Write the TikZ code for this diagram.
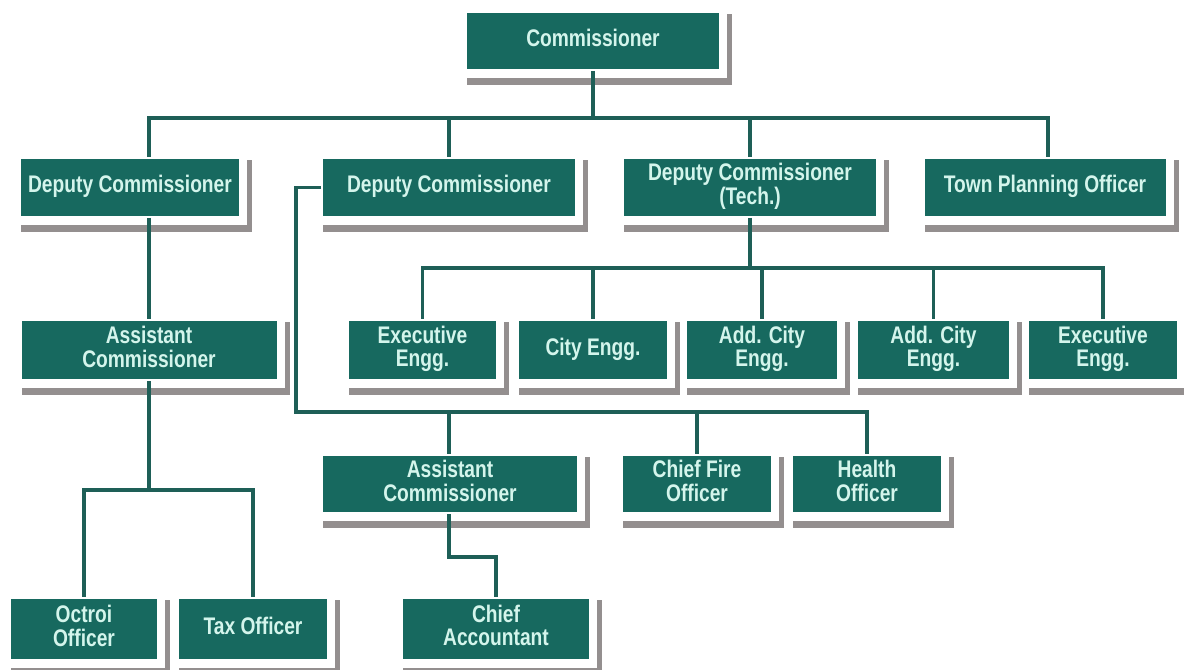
\documentclass[tikz,border=0pt]{standalone}
\usepackage{fontspec}
\setmainfont{Liberation Sans}
\usetikzlibrary{backgrounds}
\definecolor{boxc}{HTML}{17695F}
\definecolor{txtc}{HTML}{D4F5EC}
\definecolor{linec}{HTML}{1E5F57}
\definecolor{shadc}{HTML}{948F8F}
\newcommand\bx[1]{\raisebox{-1.5pt}{\scalebox{0.8}[1]{\begin{tabular}{@{}c@{}}#1\end{tabular}}}}
\begin{document}
\begin{tikzpicture}[x=0.75pt,y=-0.75pt,
  box/.style 2 args={fill=boxc, draw=white, line width=1.5pt, text=txtc,
    font=\bfseries\fontsize{18}{16.5}\selectfont, inner sep=0pt,
    minimum width=#1*0.75pt, minimum height=#2*0.75pt},
  conn/.style={draw=linec, line width=2.5pt},
  shad/.style={fill=shadc}]
\useasboundingbox (0,0) rectangle (1184,670);

% nodes
\node[box={254}{58}] (comm) at (593,41) {\bx{Commissioner}};
\node[box={220}{59}] (dc1) at (130,187.5) {\bx{Deputy Commissioner}};
\node[box={254}{59}] (dc2) at (449,187.5) {\bx{Deputy Commissioner}};
\node[box={254}{59}] (dct) at (750,187.5) {\bx{Deputy Commissioner\\(Tech.)}};
\node[box={243}{59}] (tpo) at (1045,187.5) {\bx{Town Planning Officer}};

\node[box={149}{60}] (ee1) at (422.5,350) {\bx{Executive\\Engg.}};
\node[box={150}{60}] (ce) at (593,350) {\bx{City Engg.}};
\node[box={152}{60}] (ace1) at (762,350) {\bx{Add. City\\Engg.}};
\node[box={153}{60}] (ace2) at (933.5,350) {\bx{Add. City\\Engg.}};
\node[box={150}{60}] (ee2) at (1103,350) {\bx{Executive\\Engg.}};

\node[box={257}{60}] (ac1) at (149,350) {\bx{Assistant\\Commissioner}};

\node[box={256}{58}] (ac2) at (450,484) {\bx{Assistant\\Commissioner}};
\node[box={150}{58}] (cfo) at (697,484) {\bx{Chief Fire\\Officer}};
\node[box={150}{58}] (ho) at (867,484) {\bx{Health\\Officer}};

\node[box={148}{62}] (oo) at (84,629) {\bx{Octroi\\Officer}};
\node[box={150}{62}] (to) at (253,629) {\bx{Tax Officer}};
\node[box={188}{62}] (ca) at (496,629) {\bx{Chief\\Accountant}};

% shadows (L-shaped bands right and below each box)
\begin{pgfonlayer}{background}
\fill[white] (0,0) rectangle (1184,670);
\foreach \n in {comm,dc1,dc2,dct,tpo,ee1,ce,ace1,ace2,ee2,ac1,ac2,cfo,ho,oo,to,ca}{
  \fill[shad] ([shift={(2,7)}]\n.south west) rectangle ([shift={(11,14)}]\n.south east);
  \fill[shad] ([shift={(6,3)}]\n.north east) rectangle ([shift={(11,14)}]\n.south east);
}
\end{pgfonlayer}

% junction coordinates
\coordinate (j0) at (593,118);
\coordinate (x149) at (149,0);
\coordinate (x1048) at (1048,0);
\coordinate (j2) at (750,268);
\coordinate (j3) at (149,490);
\coordinate (k1) at (296,187.5);
\coordinate (k2) at (296,412);
\coordinate (m1) at (449,557);

% connectors
\draw[conn] (comm.south) -- (j0);
\draw[conn] (dc1.north -| x149) |- (j0);
\draw[conn] (j0) -| (dc2.north);
\draw[conn] (j0) -| (dct.north);
\draw[conn] (j0) -| (tpo.north -| x1048);

\draw[conn] (dct.south) -- (j2);
\draw[conn] (j2) -| (ee1.north);
\draw[conn] (j2) -| (ce.north);
\draw[conn] (j2) -| (ace1.north);
\draw[conn] (j2) -| (ace2.north);
\draw[conn] (j2) -| (ee2.north);

\draw[conn] (dc1.south -| x149) -- (ac1.north -| x149);
\draw[conn] (ac1.south -| x149) -- (j3);
\draw[conn] (j3) -| (oo.north);
\draw[conn] (j3) -| (to.north);

\draw[conn] (dc2.west) -- (k1) -- (k2) -| (ho.north);
\draw[conn] (k2) -| (ac2.north -| m1);
\draw[conn] (k2) -| (cfo.north);

\draw[conn] (ac2.south -| m1) -- (m1) -| (ca.north);
\end{tikzpicture}
\end{document}
